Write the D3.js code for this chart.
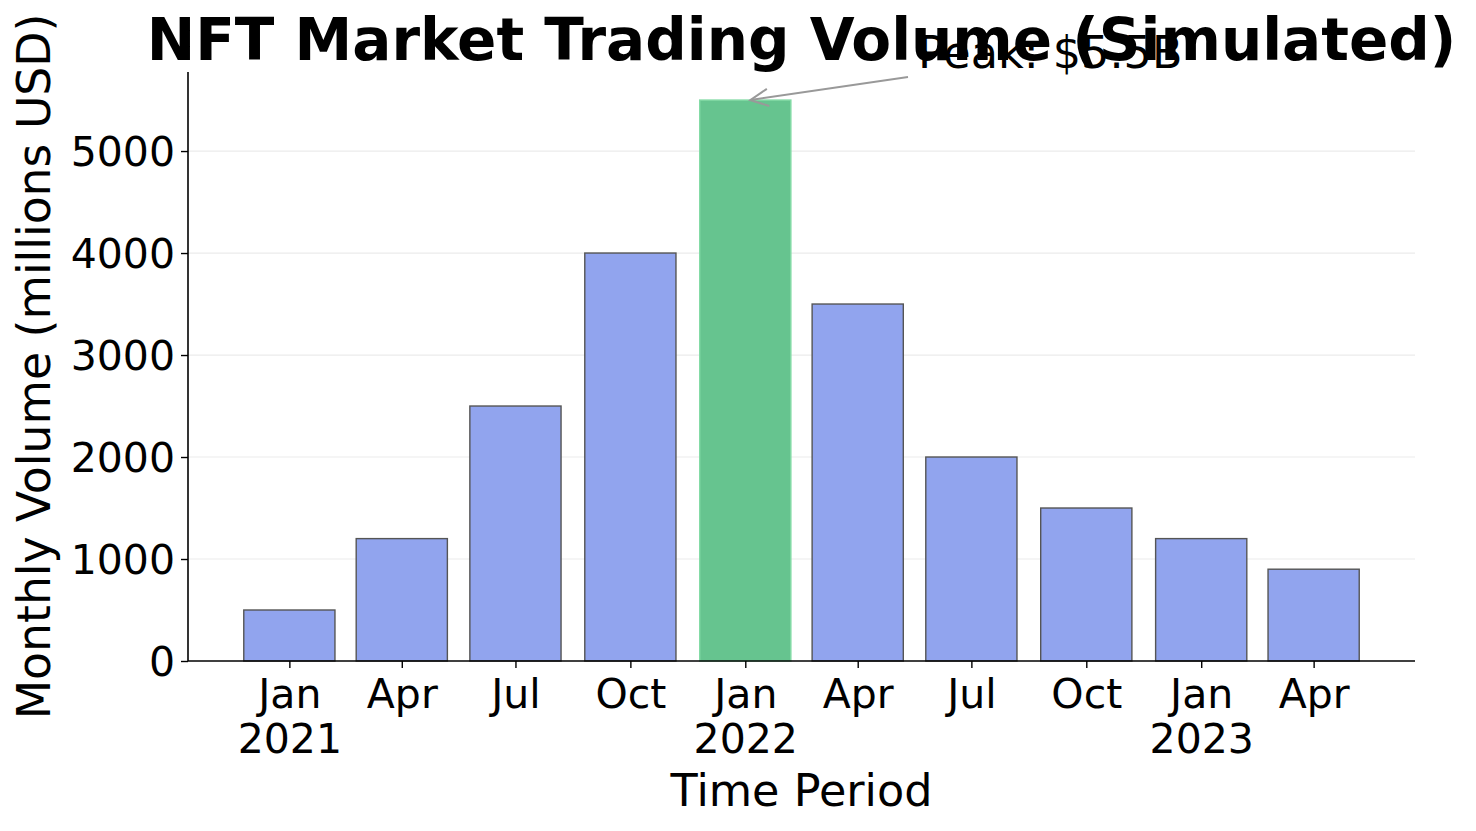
<!DOCTYPE html>
<html><head><meta charset="utf-8">
<script src="https://cdn.jsdelivr.net/npm/d3@7"></script>
<style>body{margin:0;background:#fff;} svg{display:block;} svg text{font-family:"DejaVu Sans",sans-serif;}</style>
</head><body>
<svg id="chart" width="1476" height="831"></svg>
<script>
const dates = ["2021-01-01","2021-04-01","2021-07-01","2021-10-01","2022-01-01","2022-04-01","2022-07-01","2022-10-01","2023-01-01","2023-04-01"];
const values = [500,1200,2500,4000,5500,3500,2000,1500,1200,900];
const tickLabels = [["Jan","2021"],["Apr"],["Jul"],["Oct"],["Jan","2022"],["Apr"],["Jul"],["Oct"],["Jan","2023"],["Apr"]];
const yTicks = [0,1000,2000,3000,4000,5000];
const peakLabel = "Peak: $5.5B";

const parse = d3.utcParse("%Y-%m-%d");
const data = dates.map((d,i)=>({date:parse(d), value:values[i], label:tickLabels[i]}));
const DAY = 86400000;
const barDays = 73;

const svg = d3.select("#chart");
const L = 188, R = 1415, T = 72, B = 661;

const minD = d3.min(data,d=>d.date).getTime() - barDays/2*DAY;
const maxD = d3.max(data,d=>d.date).getTime() + barDays/2*DAY;
const pad = (maxD-minD)*0.05;
const x = d3.scaleUtc().domain([new Date(minD-pad), new Date(maxD+pad)]).range([L,R]);
const ymax = d3.max(values)*1.05;
const y = d3.scaleLinear().domain([0,ymax]).range([B,T]);

// grid
svg.append("g").selectAll("line").data(yTicks.filter(v=>v>0)).join("line")
  .attr("x1",L).attr("x2",R).attr("y1",d=>y(d)).attr("y2",d=>y(d))
  .attr("stroke","#ebebeb").attr("stroke-width",1.2);

const peak = d3.max(values);
const bw = x(new Date(data[0].date.getTime()+barDays*DAY)) - x(data[0].date);

svg.append("g").selectAll("rect").data(data).join("rect")
  .attr("x",d=>x(d.date)-bw/2).attr("width",bw)
  .attr("y",d=>y(d.value)).attr("height",d=>B-y(d.value))
  .attr("fill",d=>d.value===peak?"#66c48f":"#91a4ee")
  .attr("stroke",d=>d.value===peak?"#84dba6":"#555")
  .attr("stroke-width",1.4);

// axes
const xAxis = d3.axisBottom(x).tickValues(data.map(d=>d.date)).tickSize(7).tickFormat("");
const gx = svg.append("g").attr("transform",`translate(0,${B})`).call(xAxis).attr("font-family",null);
gx.select(".domain").attr("stroke","#000").attr("stroke-width",1.6).attr("d",`M${L},0H${R}`);
gx.selectAll(".tick line").attr("stroke","#000").attr("stroke-width",1.4);
gx.selectAll(".tick").each(function(d,i){
  const t = d3.select(this).append("text").attr("fill","#000").attr("font-size",41).attr("text-anchor","middle");
  data[i].label.forEach((s,j)=>t.append("tspan").attr("x",0).attr("y",47+j*45).text(s));
});

const yAxis = d3.axisLeft(y).tickValues(yTicks).tickSize(7).tickPadding(6).tickFormat(d3.format("d"));
const gy = svg.append("g").attr("transform",`translate(${L},0)`).call(yAxis).attr("font-family",null);
gy.select(".domain").attr("stroke","#000").attr("stroke-width",1.6).attr("d",`M0,${B}V${T}`);
gy.selectAll(".tick line").attr("stroke","#000").attr("stroke-width",1.4);
gy.selectAll(".tick text").attr("font-size",41).attr("fill","#000").attr("dy","0.36em");

// labels
svg.append("text").attr("x",(L+R)/2).attr("y",806).attr("text-anchor","middle")
  .attr("font-size",44.5).attr("fill","#000").text("Time Period");
svg.append("text").attr("transform",`translate(50,${(T+B)/2}) rotate(-90)`).attr("text-anchor","middle")
  .attr("font-size",45.7).attr("fill","#000").text("Monthly Volume (millions USD)");
svg.append("text").attr("x",(L+R)/2).attr("y",60).attr("text-anchor","middle")
  .attr("font-size",58).attr("font-weight","bold").attr("fill","#000").text("NFT Market Trading Volume (Simulated)");

// annotation
const pk = data.find(d=>d.value===peak);
const ax = x(pk.date)+5, ay = y(pk.value);
const tx = 908, ty = 77;
svg.append("line").attr("x1",tx).attr("y1",ty).attr("x2",ax).attr("y2",ay)
  .attr("stroke","#999").attr("stroke-width",2);
const ang = Math.atan2(ty-ay, tx-ax);
const hl = 20, ha = 0.45;
svg.append("path").attr("d",`M${ax+hl*Math.cos(ang+ha)},${ay+hl*Math.sin(ang+ha)}L${ax},${ay}L${ax+hl*Math.cos(ang-ha)},${ay+hl*Math.sin(ang-ha)}`)
  .attr("fill","none").attr("stroke","#999").attr("stroke-width",2);
svg.append("text").attr("x",918).attr("y",68).attr("font-size",44.5).attr("fill","#000").text(peakLabel);
</script>
</body></html>
